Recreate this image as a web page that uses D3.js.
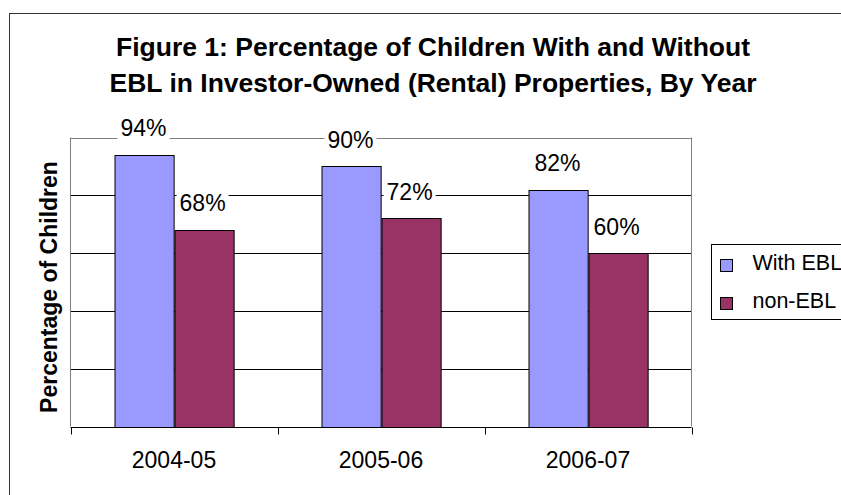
<!DOCTYPE html>
<html>
<head>
<meta charset="utf-8">
<script src="https://cdn.jsdelivr.net/npm/d3@7"></script>
<style>
  body { margin: 0; background: #fff; }
  text { font-family: "Liberation Sans", Arial, sans-serif; fill: #000; }
</style>
</head>
<body>
<div class="chart"></div>
<script>
// data
const years = ["2004-05", "2005-06", "2006-07"]
const seriesNames = ["With EBL", "non-EBL"]
const withEBL = [94, 90, 82]
const nonEBL = [68, 72, 60]
const yTicks = [0, 20, 40, 60, 80, 100]
const titleLines = ["Figure 1: Percentage of Children With and Without",
                    "EBL in Investor-Owned (Rental) Properties, By Year"]

const colours = d3.scaleOrdinal(seriesNames, ["#9999FF", "#993366"])

const svg = d3.select(".chart").append("svg").attr("width", 841).attr("height", 495)
const plot = {left: 70.5, right: 691.5, top: 137.5, bottom: 426.5}

// chart area border
svg.append("rect").attr("x", 9.5).attr("y", 13.5).attr("width", 900).attr("height", 600)
   .attr("fill", "none").attr("stroke", "#333")

// title
svg.selectAll(".title").data(titleLines).enter().append("text").attr("class", "title")
   .attr("x", 433).attr("y", (d, i) => 55.5 + i * 36).attr("text-anchor", "middle")
   .style("font-size", "26.5px").style("font-weight", "bold").text(d => d)

// scales
const x0 = d3.scaleBand().domain(years).range([plot.left, plot.right])
const x1 = d3.scaleBand().domain(seriesNames).range([0, x0.bandwidth()]).paddingOuter(0.75)
const y = d3.scaleLinear().domain([0, 100]).range([plot.bottom, plot.top])

// gridlines
svg.selectAll(".grid").data(yTicks.slice(1)).enter().append("line").attr("class", "grid")
   .attr("x1", plot.left).attr("x2", plot.right)
   .attr("y1", d => Math.round(y(d)) + 0.5).attr("y2", d => Math.round(y(d)) + 0.5)
   .attr("stroke", d => d == 100 ? "#808080" : "#000")

// plot side borders
svg.selectAll(".side").data([plot.left, plot.right]).enter().append("line")
   .attr("x1", d => d).attr("x2", d => d).attr("y1", plot.top).attr("y2", plot.bottom)
   .attr("stroke", "#808080")

// bars
const rows = years.map((yr, i) => ({year: yr, values: [withEBL[i], nonEBL[i]]}))
const groups = svg.selectAll(".group").data(rows).enter().append("g")
   .attr("transform", d => `translate(${x0(d.year)},0)`)

groups.selectAll("rect").data(d => d.values.map((v, j) => ({name: seriesNames[j], value: v})))
   .enter().append("rect")
   .attr("x", d => Math.round(x1(d.name)) + 0.5)
   .attr("y", d => Math.round(y(d.value)) + 0.5)
   .attr("width", x1.bandwidth())
   .attr("height", d => Math.round(plot.bottom) - Math.round(y(d.value)))
   .attr("fill", d => colours(d.name)).attr("stroke", "#000")

// x axis
const xAxis = svg.append("g").attr("transform", `translate(0,${Math.round(plot.bottom) + 0.5})`)
xAxis.append("line").attr("x1", plot.left).attr("x2", plot.right).attr("stroke", "#000")
const bounds = years.map(d => x0(d)).concat([plot.right])
xAxis.selectAll(".tick").data(bounds).enter().append("line")
   .attr("x1", d => Math.round(d) + 0.5).attr("x2", d => Math.round(d) + 0.5)
   .attr("y1", 0).attr("y2", 7).attr("stroke", "#000")
svg.selectAll(".xlab").data(years).enter().append("text")
   .attr("x", d => x0(d) + x0.bandwidth() / 2).attr("y", 468)
   .attr("text-anchor", "middle").style("font-size", "23px").text(d => d)

// data labels with white backing
groups.each(function(d) {
  const g = d3.select(this)
  d.values.forEach((v, j) => {
    const cx = x1(seriesNames[j]) + x1.bandwidth() / 2 - 1
    const by = y(v) - 18.5
    const lab = g.append("g")
    const t = lab.append("text").attr("x", cx).attr("y", by).attr("text-anchor", "middle")
       .style("font-size", "23px").text(v + "%")
    const w = t.node().getComputedTextLength()
    lab.insert("rect", "text").attr("x", cx - w / 2 - 3).attr("y", by - 18)
       .attr("width", w + 6).attr("height", 23).attr("fill", "#fff")
  })
})

// y axis title
svg.append("text").attr("transform", "translate(57,287) rotate(-90)")
   .attr("text-anchor", "middle").style("font-size", "23px").style("font-weight", "bold")
   .text("Percentage of Children")

// legend
const legend = svg.append("g").attr("transform", "translate(711.5,244.5)")
legend.append("rect").attr("width", 160).attr("height", 75).attr("fill", "#fff").attr("stroke", "#000")
const items = legend.selectAll(".item").data(seriesNames).enter().append("g")
   .attr("transform", (d, i) => `translate(9,${15 + i * 38})`)
items.append("rect").attr("width", 12).attr("height", 12)
   .attr("fill", d => colours(d)).attr("stroke", "#000")
items.append("text").attr("x", 32).attr("y", 10.5).style("font-size", "21.5px").text(d => d)
</script>
</body>
</html>
